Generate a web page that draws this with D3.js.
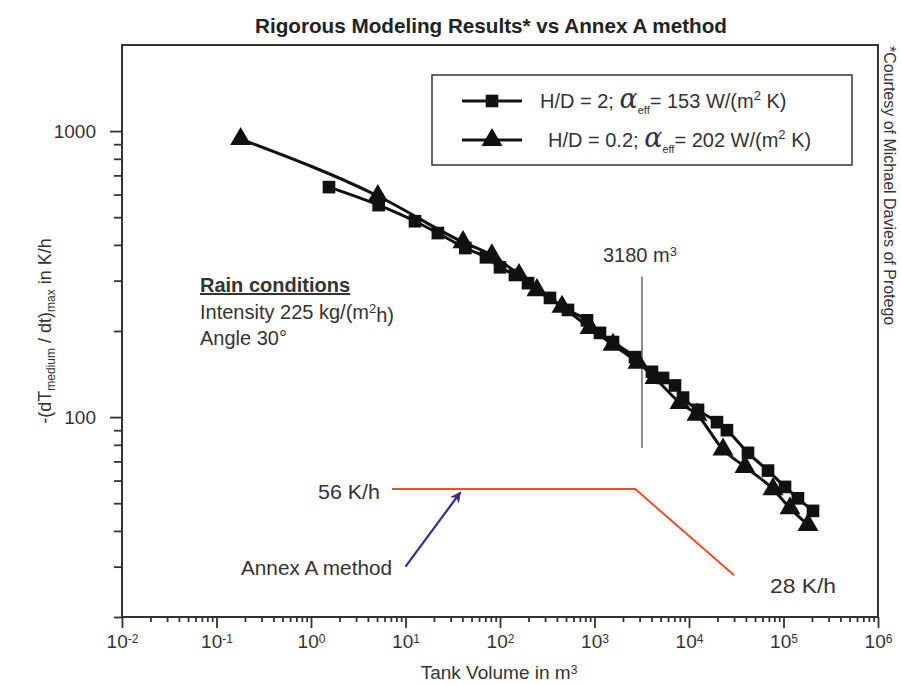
<!DOCTYPE html>
<html>
<head>
<meta charset="utf-8">
<script src="https://cdn.jsdelivr.net/npm/d3@7"></script>
<style>
  body { margin: 0; background: #fff; }
  svg { display: block; }
  text { font-family: "Liberation Sans", Arial, sans-serif; fill: #333; }
</style>
</head>
<body>
<div id="chart"></div>
<script>
// H/D = 2 series (squares)
const squareVolume = [1.55, 5.2, 12.6, 22, 43, 71, 100, 144, 198, 338, 524, 833, 1143, 1570, 2685, 4055, 5310, 7110, 8650, 12450, 19770, 25200, 42070, 68550, 103700, 142200, 205100];
const squareRate   = [637, 551, 484, 440, 390, 362, 334, 314, 294, 261, 237, 218, 197, 183, 162, 144, 137, 129, 117, 106, 96, 90, 75, 65, 57, 52, 47];

// H/D = 0.2 series (triangles)
const triVolume = [0.18, 5.1, 40.6, 82, 159, 246, 453, 896, 1570, 2884, 4365, 8030, 12150, 22900, 39150, 77400, 117200, 181600];
const triRate   = [938, 593, 409, 368, 314, 278, 243, 205, 179, 155, 137, 112, 102, 77, 67, 56, 48, 42];

// Annex A method
const annexVolume = [7.2, 2700, 30000];
const annexRate   = [56, 56, 28];

const xMajorTicks = [1e-2, 1e-1, 1e0, 1e1, 1e2, 1e3, 1e4, 1e5, 1e6];
const yMajorTicks = [100, 1000];

const W = 901, H = 684;
const plot = { left: 122, right: 878, top: 45, bottom: 617 };

const svg = d3.select("#chart").append("svg")
    .attr("width", W)
    .attr("height", H);

const x = d3.scaleLog().domain([1e-2, 1e6]).range([plot.left, plot.right]);
const y = d3.scaleLog().domain([20, 2000]).range([plot.bottom, plot.top]);

// minor tick values
const xMinor = [];
for (let e = -2; e < 6; e++) for (let k = 2; k <= 9; k++) xMinor.push(k * Math.pow(10, e));
const yMinor = [];
for (let k = 2; k <= 9; k++) { yMinor.push(k * 10); yMinor.push(k * 100); }

// title
svg.append("text")
    .attr("x", 491).attr("y", 33)
    .attr("text-anchor", "middle")
    .attr("textLength", 472).attr("lengthAdjust", "spacingAndGlyphs")
    .style("font-size", "21px").style("font-weight", "bold")
    .style("fill", "#222")
    .text("Rigorous Modeling Results* vs Annex A method");

// axes
const axisG = svg.append("g").attr("class", "axes");

axisG.append("g")
    .attr("transform", `translate(0,${plot.bottom})`)
    .call(d3.axisBottom(x).tickValues(xMinor).tickSize(5).tickFormat(""));

const xAxis = axisG.append("g")
    .attr("transform", `translate(0,${plot.bottom})`)
    .call(d3.axisBottom(x).tickValues(xMajorTicks).tickSize(11).tickPadding(7));

xAxis.selectAll(".tick text")
    .style("font-size", "19px")
    .style("fill", "#333")
    .each(function (d) {
        const t = d3.select(this).text("");
        t.append("tspan").text("10");
        t.append("tspan")
            .attr("dy", "-0.45em")
            .style("font-size", "12px")
            .text(Math.round(Math.log10(d)));
    });

axisG.append("g")
    .attr("transform", `translate(${plot.left},0)`)
    .call(d3.axisLeft(y).tickValues(yMinor).tickSize(8).tickFormat(""));

const yAxis = axisG.append("g")
    .attr("transform", `translate(${plot.left},0)`)
    .call(d3.axisLeft(y).tickValues(yMajorTicks).tickSize(12).tickPadding(14).tickFormat(d3.format("d")));

yAxis.selectAll(".tick text")
    .style("font-size", "19px")
    .style("fill", "#333");

axisG.selectAll(".domain").remove();
axisG.selectAll(".tick line").attr("stroke", "#333").attr("stroke-width", 1.8);

// frame
svg.append("rect")
    .attr("x", plot.left).attr("y", plot.top)
    .attr("width", plot.right - plot.left)
    .attr("height", plot.bottom - plot.top)
    .attr("fill", "none")
    .attr("stroke", "#333")
    .attr("stroke-width", 2);

// axis titles
const xt = svg.append("text")
    .attr("x", 499).attr("y", 679)
    .attr("text-anchor", "middle")
    .style("font-size", "19px");
xt.append("tspan").text("Tank Volume in m");
xt.append("tspan").attr("dy", "-0.45em").style("font-size", "12px").text("3");

const yt = svg.append("text")
    .attr("transform", "translate(51,331) rotate(-90)")
    .attr("text-anchor", "middle")
    .style("font-size", "18px");
yt.append("tspan").text("-(dT");
yt.append("tspan").attr("dy", "0.35em").style("font-size", "12px").text("medium");
yt.append("tspan").attr("dy", "-0.24em").text(" / dt)");
yt.append("tspan").attr("dy", "0.35em").style("font-size", "12px").text("max");
yt.append("tspan").attr("dy", "-0.24em").text(" in K/h");

// courtesy note
svg.append("text")
    .attr("transform", "translate(884,46) rotate(90)")
    .style("font-size", "16px")
    .text("*Courtesy of Michael Davies of Protego");

// rain conditions
const rain = svg.append("g").style("font-size", "20px");
rain.append("text").attr("x", 200).attr("y", 292)
    .style("font-weight", "bold").style("text-decoration", "underline")
    .text("Rain conditions");
const inten = rain.append("text").attr("x", 200).attr("y", 319);
inten.append("tspan").text("Intensity 225 kg/(m");
inten.append("tspan").attr("dy", "-0.45em").style("font-size", "13px").text("2");
inten.append("tspan").attr("dy", "0.45em").text("h)");
rain.append("text").attr("x", 200).attr("y", 345).text("Angle 30°");

// 3180 m3 marker
svg.append("line")
    .attr("x1", x(3180)).attr("x2", x(3180))
    .attr("y1", y(310)).attr("y2", y(78))
    .attr("stroke", "#666").attr("stroke-width", 1.5);
const vt = svg.append("text")
    .attr("x", x(3180) - 2).attr("y", 262)
    .attr("text-anchor", "middle")
    .style("font-size", "20px");
vt.append("tspan").text("3180 m");
vt.append("tspan").attr("dy", "-0.5em").style("font-size", "13px").text("3");

// Annex A line
const annex = annexVolume.map((v, i) => [v, annexRate[i]]);
svg.append("path")
    .attr("d", d3.line().x(d => x(d[0])).y(d => y(d[1]))(annex))
    .attr("fill", "none")
    .attr("stroke", "#e8502e")
    .attr("stroke-width", 2);

svg.append("text").attr("x", 380).attr("y", 499).attr("text-anchor", "end")
    .attr("textLength", 62).attr("lengthAdjust", "spacingAndGlyphs")
    .style("font-size", "20px").text("56 K/h");
svg.append("text").attr("x", 770).attr("y", 593)
    .attr("textLength", 66).attr("lengthAdjust", "spacingAndGlyphs")
    .style("font-size", "20px").text("28 K/h");
svg.append("text").attr("x", 392).attr("y", 575).attr("text-anchor", "end")
    .attr("textLength", 151).attr("lengthAdjust", "spacingAndGlyphs")
    .style("font-size", "20px").text("Annex A method");

// arrow
svg.append("defs").append("marker")
    .attr("id", "arrowhead")
    .attr("viewBox", "0 0 10 10")
    .attr("refX", 9).attr("refY", 5)
    .attr("markerWidth", 5).attr("markerHeight", 5)
    .attr("orient", "auto")
    .append("path")
    .attr("d", "M0,0 L10,5 L0,10 L3,5 Z")
    .attr("fill", "#3b2a8c");

svg.append("line")
    .attr("x1", x(10)).attr("y1", y(30))
    .attr("x2", x(38)).attr("y2", y(54.5))
    .attr("stroke", "#3b2a8c").attr("stroke-width", 2.2)
    .attr("marker-end", "url(#arrowhead)");

// series
const line = d3.line().curve(d3.curveMonotoneX).x(d => x(d[0])).y(d => y(d[1]));
const squares = squareVolume.map((v, i) => [v, squareRate[i]]);
const tris = triVolume.map((v, i) => [v, triRate[i]]);

svg.append("path").attr("d", line(tris))
    .attr("fill", "none").attr("stroke", "#111").attr("stroke-width", 3);
svg.append("path").attr("d", line(squares))
    .attr("fill", "none").attr("stroke", "#111").attr("stroke-width", 3);

const sqSym = d3.symbol().type(d3.symbolSquare).size(160);
const triSym = d3.symbol().type(d3.symbolTriangle).size(190);

svg.append("g").selectAll("path")
    .data(squares)
    .join("path")
    .attr("transform", d => `translate(${x(d[0])},${y(d[1])})`)
    .attr("d", sqSym)
    .attr("fill", "#111");

svg.append("g").selectAll("path")
    .data(tris)
    .join("path")
    .attr("transform", d => `translate(${x(d[0])},${y(d[1])})`)
    .attr("d", triSym)
    .attr("fill", "#111");

// legend
const legend = svg.append("g");
legend.append("rect")
    .attr("x", 432).attr("y", 75).attr("width", 420).attr("height", 90)
    .attr("fill", "#fff").attr("stroke", "#333").attr("stroke-width", 1.5);

const legendRows = [
    { y: 101, sym: sqSym, tx: 540, label: "H/D = 2; ", value: "153 W/(m" },
    { y: 140, sym: triSym, tx: 548, label: "H/D = 0.2; ", value: "202 W/(m" }
];

legendRows.forEach(r => {
    legend.append("line")
        .attr("x1", 462).attr("x2", 522)
        .attr("y1", r.y).attr("y2", r.y)
        .attr("stroke", "#111").attr("stroke-width", 3);
    legend.append("path")
        .attr("transform", `translate(492,${r.y})`)
        .attr("d", r.sym)
        .attr("fill", "#111");
    const t = legend.append("text")
        .attr("x", r.tx).attr("y", r.y + 7)
        .style("font-size", "20px");
    t.append("tspan").text(r.label);
    t.append("tspan")
        .style("font-family", "'DejaVu Serif', serif")
        .style("font-style", "italic")
        .style("font-size", "27px")
        .text("α");
    t.append("tspan").attr("dy", 6).style("font-size", "11px").text("eff");
    t.append("tspan").attr("dy", -6).text("= " + r.value);
    t.append("tspan").attr("dy", -8).style("font-size", "13px").text("2");
    t.append("tspan").attr("dy", 8).text(" K)");
});
</script>
</body>
</html>
